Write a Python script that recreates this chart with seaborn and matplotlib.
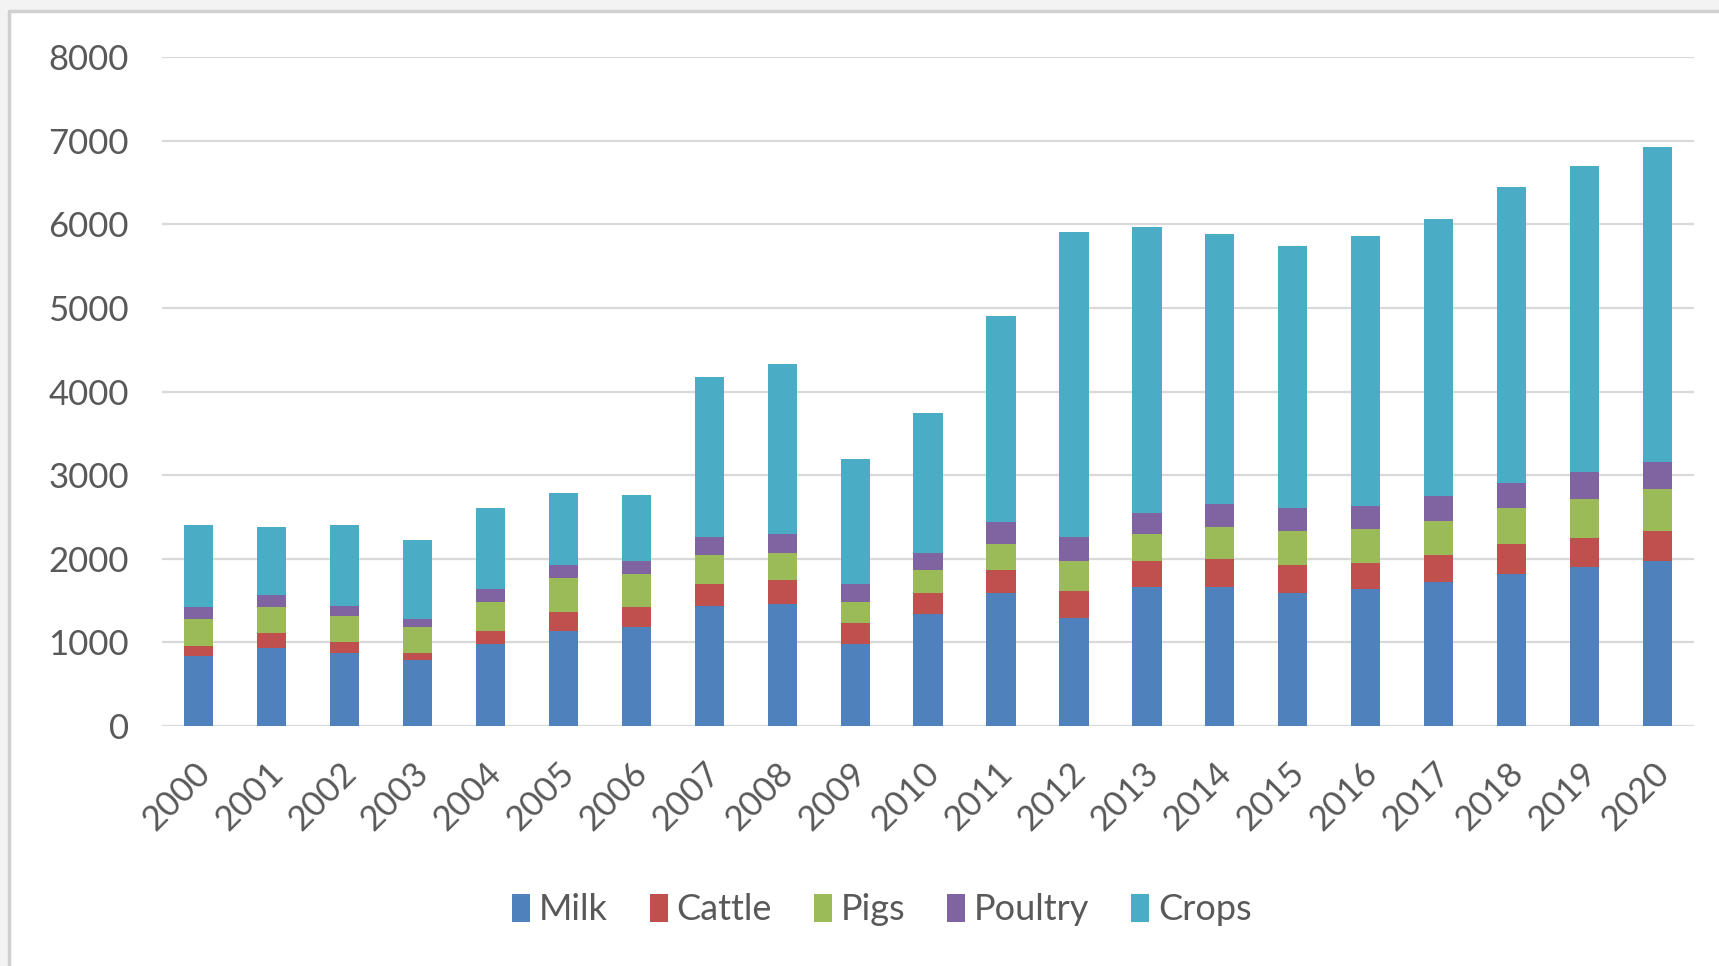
import matplotlib
matplotlib.use("Agg")
import matplotlib.pyplot as plt
import matplotlib.transforms as mtransforms
import numpy as np
import pandas as pd
import seaborn as sns
from matplotlib.patches import Patch, Rectangle

years = [str(y) for y in range(2000, 2021)]
milk = [843, 930, 877, 790, 976, 1133, 1185, 1441, 1464, 986, 1341,
        1592, 1289, 1662, 1662, 1591, 1641, 1717, 1823, 1898, 1969]
cattle = [110, 180, 122, 87, 157, 227, 236, 255, 280, 251, 251,
          279, 331, 307, 337, 332, 308, 327, 352, 348, 362]
pigs = [331, 308, 314, 308, 355, 406, 399, 351, 331, 251, 279,
        304, 355, 332, 378, 408, 402, 408, 433, 463, 499]
poultry = [134, 145, 128, 99, 151, 157, 155, 208, 227, 208, 204,
           259, 280, 252, 277, 277, 277, 302, 302, 327, 332]
crops = [987, 814, 964, 941, 970, 860, 782, 1923, 2032, 1492, 1668,
         2470, 3647, 3414, 3232, 3127, 3233, 3308, 3535, 3661, 3761]

series = ["Milk", "Cattle", "Pigs", "Poultry", "Crops"]
colors = ["#4F81BD", "#C0504D", "#9BBB59", "#8064A2", "#4BACC6"]

df = pd.DataFrame({"Year": years, "Milk": milk, "Cattle": cattle,
                   "Pigs": pigs, "Poultry": poultry, "Crops": crops})
cum = df[series].cumsum(axis=1)
cum["Year"] = df["Year"]

sns.set_theme(style="white")
plt.rcParams["font.family"] = ["Lato", "DejaVu Sans"]
text_color = "#595959"

fig = plt.figure(figsize=(17.19, 9.66), dpi=100)
ax = fig.add_axes([0.0943, 0.2484, 0.8912, 0.6926])

# draw cumulative totals back to front so each layer shows as a stacked segment
for name, col in reversed(list(zip(series, colors))):
    sns.barplot(data=cum, x="Year", y=name, color=col, width=0.4,
                saturation=1, ax=ax, order=years, linewidth=0)

ax.set_ylim(0, 8000)
ax.set_xlim(-0.5, len(years) - 0.5)
ax.set_yticks(np.arange(0, 8001, 1000))
ax.yaxis.grid(True, color="#D9D9D9", linewidth=1.6)
ax.set_axisbelow(True)
for s in ax.spines.values():
    s.set_visible(False)
ax.set_xlabel("")
ax.set_ylabel("")
ax.tick_params(axis="y", length=0, pad=24, labelsize=25, labelcolor=text_color)
ax.tick_params(axis="x", length=0, pad=22, labelsize=25, labelcolor=text_color)
shift = mtransforms.ScaledTranslation(-5 / 100, 0, fig.dpi_scale_trans)
for lab in ax.get_xticklabels():
    lab.set_rotation(45)
    lab.set_ha("right")
    lab.set_rotation_mode("anchor")
    lab.set_transform(lab.get_transform() + shift)

handles = [Patch(facecolor=c, edgecolor="none", label=n) for n, c in zip(series, colors)]
fig.legend(handles=handles, loc="center", bbox_to_anchor=(0.513, 0.058), ncol=5,
           frameon=False, fontsize=26, labelcolor=text_color,
           handlelength=0.5, handleheight=0.8, handletextpad=0.25,
           columnspacing=1.15)

# outer chart frame and the faint page strip around it
fig.patches.append(Rectangle((0, 0), 9 / 1719, 1, transform=fig.transFigure,
                             facecolor="#F3F3F3", edgecolor="none", zorder=0))
fig.patches.append(Rectangle((0, 1 - 11 / 966), 1, 11 / 966, transform=fig.transFigure,
                             facecolor="#F3F3F3", edgecolor="none", zorder=0))
fig.lines.append(plt.Line2D([9 / 1719, 9 / 1719], [0, 1 - 11 / 966], transform=fig.transFigure,
                            color="#D0D0D0", linewidth=2.5))
fig.lines.append(plt.Line2D([9 / 1719, 1], [1 - 11 / 966, 1 - 11 / 966], transform=fig.transFigure,
                            color="#D0D0D0", linewidth=2.5))

fig.savefig("out.png", dpi=100, facecolor="white")
